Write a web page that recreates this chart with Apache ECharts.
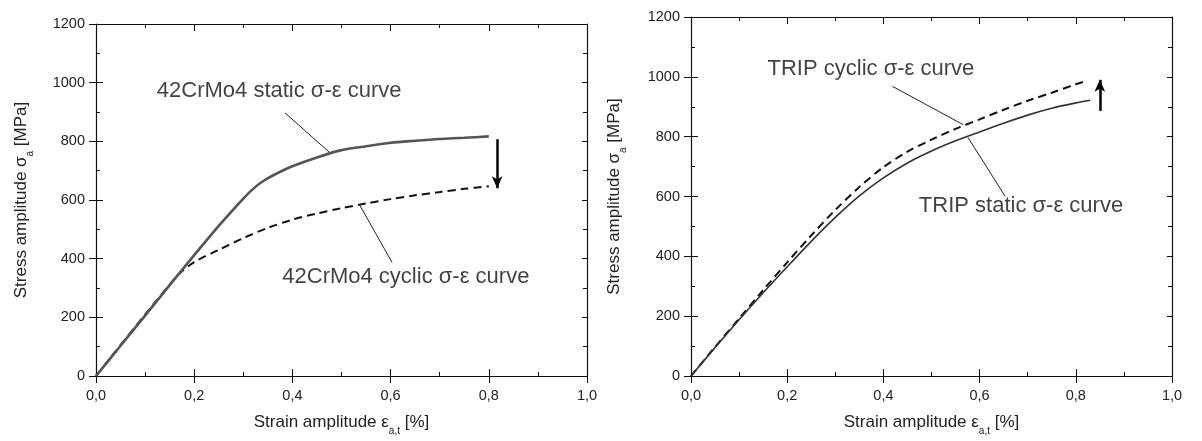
<!DOCTYPE html>
<html><head><meta charset="utf-8">
<script src="https://cdn.jsdelivr.net/npm/echarts@6/dist/echarts.min.js"></script>
<style>html,body{margin:0;padding:0;background:#fff}#c{width:1202px;height:441px}</style>
</head><body><div id="c"></div>
<script>
// ---- Data: left chart (42CrMo4) ----
const crmoStaticX = [0,0.05,0.1,0.15,0.2,0.25,0.3,0.32,0.34,0.37,0.4,0.45,0.5,0.55,0.6,0.65,0.7,0.75,0.8];
const crmoStaticY = [0,103,206,310,412,512,605,638,664,692,715,745,770,783,795,802,808,812,817];
const crmoCyclicX = [0,0.163,0.2,0.25,0.3,0.35,0.4,0.45,0.5,0.55,0.6,0.65,0.7,0.75,0.8];
const crmoCyclicY = [0,337,388,430,470,505,533,554,572,588,603,616,627,638,647];
// ---- Data: right chart (TRIP) ----
const tripStaticX = [0,0.05,0.1,0.15,0.2,0.25,0.3,0.35,0.4,0.45,0.5,0.55,0.6,0.65,0.7,0.75,0.8,0.83];
const tripStaticY = [0,95,188,278,365,450,530,602,662,712,752,786,816,845,872,895,913,922];
const tripCyclicX = [0,0.05,0.1,0.15,0.2,0.25,0.3,0.35,0.4,0.45,0.5,0.55,0.6,0.65,0.7,0.75,0.8,0.823];
const tripCyclicY = [0,97,192,287,380,470,555,632,698,750,790,826,858,890,920,947,975,987];
// ---- Annotations (data coords) ----
const crmoLabels = [["42CrMo4 static σ-ε curve",0.373,973],["42CrMo4 cyclic σ-ε curve",0.631,337]];
const crmoLeaders = [[[0.385,897],[0.475,763]],[[0.538,580],[0.603,387]]];
const crmoArrow = [[0.817,807],[0.817,640]];
const tripLabels = [["TRIP cyclic σ-ε curve",0.374,1026],["TRIP static σ-ε curve",0.686,569]];
const tripLeaders = [[[0.419,968],[0.566,840]],[[0.576,797],[0.653,601]]];
const tripArrow = [[0.85,886],[0.85,990]];
// ---- Axis ----
const xMin=0,xMax=1,xMajor=0.2,xMinor=0.1;
const yMin=0,yMax=1200,yMajor=200,yMinor=100;
const xTitle='{t|Strain amplitude ε}{s|a,t}{t| [%]}';
const yTitle='{t|Stress amplitude σ}{s|a}{t| [MPa]}';

const FONT='Liberation Sans, Arial, sans-serif';
const zip=(xs,ys)=>xs.map((x,i)=>[x,ys[i]]);
const grids=[{left:96,top:24,width:491,height:360},{left:691,top:17,width:481,height:367}];
const rich={t:{fontSize:17,fontFamily:FONT,color:'#222',lineHeight:17,verticalAlign:'middle'},
            s:{fontSize:10,fontFamily:FONT,color:'#222',lineHeight:27,verticalAlign:'bottom'}};
const line={show:true,onZero:false,lineStyle:{color:'#111',width:1.2}};
const tick=(inside,len)=>({show:true,inside:inside,length:len,lineStyle:{color:'#111',width:1}});
const minor={show:true,splitNumber:2,length:4,lineStyle:{color:'#111',width:1}};
const lbl={fontSize:14.5,fontFamily:FONT,color:'#222'};
let xAxis=[],yAxis=[];
grids.forEach((g,gi)=>{
  xAxis.push({gridIndex:gi,type:'value',min:xMin,max:xMax,interval:xMajor,position:'bottom',
    axisLine:line,axisTick:tick(false,7),splitLine:{show:false},
    axisLabel:Object.assign({margin:12,formatter:v=>v.toFixed(1).replace('.',',')},lbl),
    name:xTitle,nameLocation:'middle',nameGap:33,nameTextStyle:{rich:rich}});
  xAxis.push({gridIndex:gi,type:'value',min:xMin,max:xMax,interval:xMajor,position:'bottom',
    axisLine:{show:false},axisTick:tick(true,7),minorTick:minor,splitLine:{show:false},axisLabel:{show:false}});
  xAxis.push({gridIndex:gi,type:'value',min:xMin,max:xMax,interval:xMajor,position:'top',
    axisLine:line,axisTick:tick(true,7),minorTick:minor,splitLine:{show:false},axisLabel:{show:false}});
  yAxis.push({gridIndex:gi,type:'value',min:yMin,max:yMax,interval:yMajor,position:'left',
    axisLine:line,axisTick:tick(false,7),splitLine:{show:false},
    axisLabel:Object.assign({margin:11,formatter:v=>String(v)},lbl),
    name:yTitle,nameLocation:'middle',nameGap:gi===0?61:63,nameRotate:90,nameTextStyle:{rich:rich}});
  yAxis.push({gridIndex:gi,type:'value',min:yMin,max:yMax,interval:yMajor,position:'left',
    axisLine:{show:false},axisTick:tick(true,7),minorTick:minor,splitLine:{show:false},axisLabel:{show:false}});
  yAxis.push({gridIndex:gi,type:'value',min:yMin,max:yMax,interval:yMajor,position:'right',
    axisLine:line,axisTick:tick(true,5),minorTick:minor,splitLine:{show:false},axisLabel:{show:false}});
});
function curves(gi,sx,sy,cx,cy,labels,leaders,arrow,staticW,staticC){
  const xi=gi*3, yi=gi*3;
  return [
    {type:'line',xAxisIndex:xi,yAxisIndex:yi,data:zip(cx,cy),showSymbol:false,smooth:0.3,z:2,
      lineStyle:{color:'#111',width:2,type:[8,5]},silent:true},
    {type:'line',xAxisIndex:xi,yAxisIndex:yi,data:zip(sx,sy),showSymbol:false,smooth:0.3,z:3,
      lineStyle:{color:staticC,width:staticW},silent:true,
      markLine:{silent:true,symbol:'none',label:{show:false},animation:false,
        lineStyle:{color:'#222',width:1,type:'solid'},
        data:leaders.map(l=>[{coord:l[0]},{coord:l[1]}]).concat([[
          {coord:arrow[0],symbol:'none'},{coord:arrow[1],symbol:'arrow',symbolSize:[8,12],lineStyle:{width:2.5,color:'#000'}}]])}},
    {type:'scatter',xAxisIndex:xi,yAxisIndex:yi,symbolSize:0,silent:true,z:5,
      data:labels.map(l=>({value:[l[1],l[2]],name:l[0]})),
      label:{show:true,position:'inside',formatter:p=>p.name,fontSize:22,fontFamily:FONT,color:'#111'}}
  ];
}
const chart=echarts.init(document.getElementById('c'),null,{renderer:'canvas'});
chart.setOption({animation:false,backgroundColor:'#fff',grid:grids,xAxis:xAxis,yAxis:yAxis,
  series:[].concat(curves(0,crmoStaticX,crmoStaticY,crmoCyclicX,crmoCyclicY,crmoLabels,crmoLeaders,crmoArrow,2.6,'#555'),
                   curves(1,tripStaticX,tripStaticY,tripCyclicX,tripCyclicY,tripLabels,tripLeaders,tripArrow,1.6,'#333'))});
</script></body></html>
